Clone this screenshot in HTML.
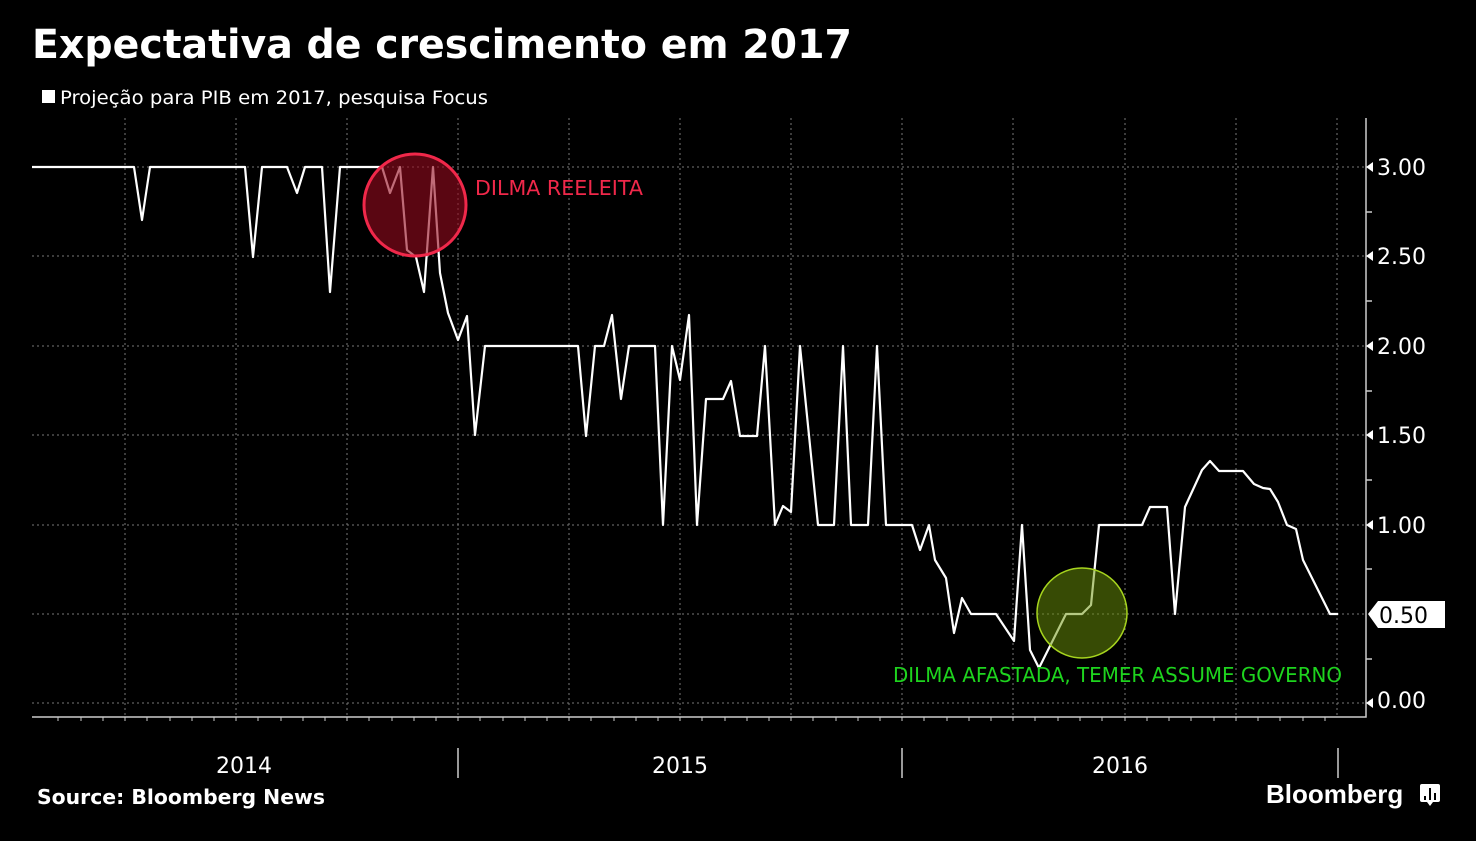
<!DOCTYPE html>
<html><head><meta charset="utf-8"><style>
body{margin:0;background:#000;width:1476px;height:836px;overflow:hidden;font-family:"Liberation Sans","DejaVu Sans",sans-serif}
</style></head><body>
<svg width="1476" height="836" viewBox="0 0 1476 836" xmlns="http://www.w3.org/2000/svg">
<rect width="1476" height="836" fill="#000"/>
<text x="32" y="58" fill="#fff" font-size="40" font-weight="bold" font-family="DejaVu Sans, sans-serif" textLength="820" lengthAdjust="spacingAndGlyphs">Expectativa de crescimento em 2017</text>
<rect x="42" y="90" width="13" height="13" fill="#fff"/>
<text x="60" y="104" fill="#fff" font-size="19" font-family="DejaVu Sans, sans-serif" textLength="428" lengthAdjust="spacingAndGlyphs">Projeção para PIB em 2017, pesquisa Focus</text>
<g stroke="#777" stroke-width="1" stroke-dasharray="2,3">
<line x1="32" x2="1366" y1="167" y2="167"/><line x1="32" x2="1366" y1="256" y2="256"/>
<line x1="32" x2="1366" y1="346" y2="346"/><line x1="32" x2="1366" y1="435" y2="435"/>
<line x1="32" x2="1366" y1="525" y2="525"/><line x1="32" x2="1366" y1="614" y2="614"/>
<line x1="32" x2="1366" y1="703" y2="703"/>
<line x1="125" x2="125" y1="118" y2="717"/><line x1="236" x2="236" y1="118" y2="717"/>
<line x1="347" x2="347" y1="118" y2="717"/><line x1="458" x2="458" y1="118" y2="717"/>
<line x1="569" x2="569" y1="118" y2="717"/><line x1="680" x2="680" y1="118" y2="717"/>
<line x1="791" x2="791" y1="118" y2="717"/><line x1="902" x2="902" y1="118" y2="717"/>
<line x1="1013" x2="1013" y1="118" y2="717"/><line x1="1125" x2="1125" y1="118" y2="717"/>
<line x1="1236" x2="1236" y1="118" y2="717"/><line x1="1337" x2="1337" y1="118" y2="717"/>
</g>
<g stroke="#ccc" stroke-width="1.5" fill="none">
<polyline points="1366,118 1366,717 32,717"/>
<line x1="1366" x2="1372" y1="212" y2="212"/><line x1="1366" x2="1372" y1="301" y2="301"/>
<line x1="1366" x2="1372" y1="391" y2="391"/><line x1="1366" x2="1372" y1="480" y2="480"/>
<line x1="1366" x2="1372" y1="569" y2="569"/><line x1="1366" x2="1372" y1="659" y2="659"/>
<line x1="458" x2="458" y1="748" y2="778"/><line x1="902" x2="902" y1="748" y2="778"/><line x1="1338" x2="1338" y1="748" y2="778"/>
</g>
<g stroke="#ccc" stroke-width="1">
<line x1="58" x2="58" y1="717" y2="721"/><line x1="81" x2="81" y1="717" y2="721"/><line x1="103" x2="103" y1="717" y2="721"/><line x1="125" x2="125" y1="717" y2="721"/><line x1="147" x2="147" y1="717" y2="721"/><line x1="170" x2="170" y1="717" y2="721"/><line x1="192" x2="192" y1="717" y2="721"/><line x1="214" x2="214" y1="717" y2="721"/><line x1="236" x2="236" y1="717" y2="721"/><line x1="258" x2="258" y1="717" y2="721"/><line x1="281" x2="281" y1="717" y2="721"/><line x1="303" x2="303" y1="717" y2="721"/><line x1="325" x2="325" y1="717" y2="721"/><line x1="347" x2="347" y1="717" y2="721"/><line x1="369" x2="369" y1="717" y2="721"/><line x1="392" x2="392" y1="717" y2="721"/><line x1="414" x2="414" y1="717" y2="721"/><line x1="436" x2="436" y1="717" y2="721"/><line x1="458" x2="458" y1="717" y2="721"/><line x1="480" x2="480" y1="717" y2="721"/><line x1="503" x2="503" y1="717" y2="721"/><line x1="525" x2="525" y1="717" y2="721"/><line x1="547" x2="547" y1="717" y2="721"/><line x1="569" x2="569" y1="717" y2="721"/><line x1="591" x2="591" y1="717" y2="721"/><line x1="614" x2="614" y1="717" y2="721"/><line x1="636" x2="636" y1="717" y2="721"/><line x1="658" x2="658" y1="717" y2="721"/><line x1="680" x2="680" y1="717" y2="721"/><line x1="702" x2="702" y1="717" y2="721"/><line x1="725" x2="725" y1="717" y2="721"/><line x1="747" x2="747" y1="717" y2="721"/><line x1="769" x2="769" y1="717" y2="721"/><line x1="791" x2="791" y1="717" y2="721"/><line x1="813" x2="813" y1="717" y2="721"/><line x1="836" x2="836" y1="717" y2="721"/><line x1="858" x2="858" y1="717" y2="721"/><line x1="880" x2="880" y1="717" y2="721"/><line x1="902" x2="902" y1="717" y2="721"/><line x1="924" x2="924" y1="717" y2="721"/><line x1="947" x2="947" y1="717" y2="721"/><line x1="969" x2="969" y1="717" y2="721"/><line x1="991" x2="991" y1="717" y2="721"/><line x1="1013" x2="1013" y1="717" y2="721"/><line x1="1035" x2="1035" y1="717" y2="721"/><line x1="1058" x2="1058" y1="717" y2="721"/><line x1="1080" x2="1080" y1="717" y2="721"/><line x1="1102" x2="1102" y1="717" y2="721"/><line x1="1125" x2="1125" y1="717" y2="721"/><line x1="1147" x2="1147" y1="717" y2="721"/><line x1="1169" x2="1169" y1="717" y2="721"/><line x1="1191" x2="1191" y1="717" y2="721"/><line x1="1214" x2="1214" y1="717" y2="721"/><line x1="1236" x2="1236" y1="717" y2="721"/><line x1="1258" x2="1258" y1="717" y2="721"/><line x1="1280" x2="1280" y1="717" y2="721"/><line x1="1303" x2="1303" y1="717" y2="721"/><line x1="1325" x2="1325" y1="717" y2="721"/>
</g>
<g fill="#fff" font-size="22" font-family="DejaVu Sans, sans-serif">
<polygon points="1366,167 1373,162 1373,172"/><text x="1377" y="175">3.00</text>
<polygon points="1366,256 1373,251 1373,261"/><text x="1377" y="264">2.50</text>
<polygon points="1366,346 1373,341 1373,351"/><text x="1377" y="354">2.00</text>
<polygon points="1366,435 1373,430 1373,440"/><text x="1377" y="443">1.50</text>
<polygon points="1366,525 1373,520 1373,530"/><text x="1377" y="533">1.00</text>
<polygon points="1366,703 1373,698 1373,708"/><text x="1377" y="708">0.00</text>
<polygon points="1368,614 1378,601 1445,601 1445,628 1378,628"/>
<text x="1379" y="623" fill="#000">0.50</text>
<text x="244" y="773" text-anchor="middle">2014</text>
<text x="680" y="773" text-anchor="middle">2015</text>
<text x="1120" y="773" text-anchor="middle">2016</text>
</g>
<polyline fill="none" stroke="#fff" stroke-width="2.2" stroke-linejoin="round" points="32,167 134,167 142,220 150,167 245,167 253,257 262,167 287,167 297,193 305,167 322,167 330,292 340,167 382,167 390,193 400,167 407,250 416,257 424,292 433,167 440,273 448,313 458,340 467,316 475,435 485,346 578,346 586,436 595,346 604,346 612,315 621,399 629,346 655,346 663,525 672,346 680,380 689,315 697,525 706,399 723,399 731,381 740,436 757,436 765,346 775,525 783,506 791,512 800,346 818,525 834,525 843,346 851,525 868,525 877,346 886,525 912,525 920,550 929,525 935,560 946,578 954,633 962,598 971,614 996,614 1014,641 1022,525 1030,650 1039,668 1066,614 1082,614 1091,605 1099,525 1142,525 1150,507 1167,507 1175,614 1185,507 1202,470 1210,461 1219,471 1243,471 1254,484 1263,488 1270,489 1278,502 1287,525 1296,529 1303,560 1322,598 1330,614 1338,614"/>
<circle cx="415" cy="205" r="51" fill="rgba(150,10,30,0.6)" stroke="#f0284a" stroke-width="3"/>
<circle cx="1082" cy="613" r="45" fill="rgba(110,150,10,0.5)" stroke="#a6d41e" stroke-width="1.5"/>
<text x="475" y="195" fill="#f0284a" font-size="20" font-family="DejaVu Sans, sans-serif" textLength="168" lengthAdjust="spacingAndGlyphs">DILMA REELEITA</text>
<text x="893" y="682" fill="#1ed41e" font-size="20" font-family="DejaVu Sans, sans-serif" textLength="449" lengthAdjust="spacingAndGlyphs">DILMA AFASTADA, TEMER ASSUME GOVERNO</text>
<text x="37" y="804" fill="#fff" font-size="20" font-weight="bold" font-family="DejaVu Sans, sans-serif" textLength="288" lengthAdjust="spacingAndGlyphs">Source: Bloomberg News</text>
<text x="1266" y="803" fill="#fff" font-size="26" font-weight="bold" font-family="Liberation Sans, sans-serif">Bloomberg</text>
<rect x="1420" y="784" width="20" height="18" rx="2" fill="#fff"/>
<polygon points="1427,802 1433,802 1430,806" fill="#fff"/>
<g stroke="#000" stroke-width="2"><line x1="1425" x2="1425" y1="796" y2="800"/><line x1="1430" x2="1430" y1="788" y2="800"/><line x1="1435" x2="1435" y1="793" y2="800"/></g>
</svg>
</body></html>
